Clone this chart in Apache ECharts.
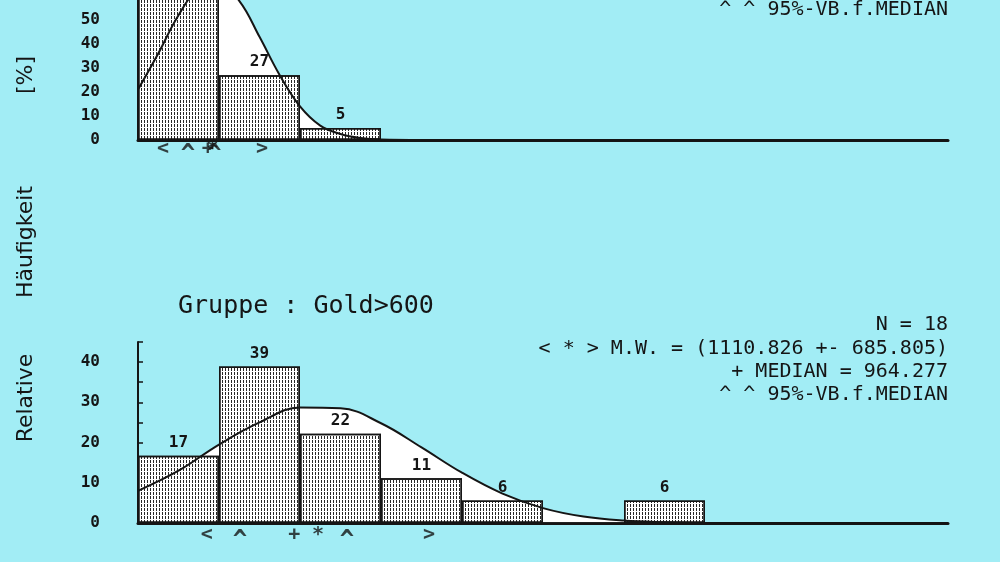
<!DOCTYPE html>
<html><head><meta charset="utf-8">
<script src="https://cdn.jsdelivr.net/npm/echarts@6/dist/echarts.min.js"></script>
<style>html,body{margin:0;padding:0;background:#a2edf5}#c{width:1000px;height:562px}</style>
</head><body><div id="c"></div>
<script>
// bins of 500 units, 0..5000
const binLabels = ['0-500','500-1000','1000-1500','1500-2000','2000-2500','2500-3000','3000-3500','3500-4000','4000-4500','4500-5000'];
// top panel (group above, partly cut off)
const topBars = [68, 27, 5, 0, 0, 0, 0, 0, 0, 0];
const topCurveX = [0, 125, 250, 375, 500, 625, 750, 875, 1000, 1125, 1250, 1375, 1500, 1750];
const topCurveY = [21, 36, 52, 63, 65, 58, 43, 27, 14, 6, 2.5, 0.8, 0.2, 0];
const topMarkSyms = ['<', '^', '+', '*', '^', '>'];
const topMarkX = [154, 309, 430, 460, 470, 765];
// bottom panel: Gruppe : Gold>600
const bottomBars = [16.7, 38.9, 22.2, 11.1, 5.6, 0, 5.6, 0, 0, 0];
const bottomCurveX = [0, 250, 500, 750, 1000, 1250, 1500, 1750, 2000, 2250, 2500, 2750, 3000, 3250, 3500];
const bottomCurveY = [8, 13, 19.5, 25, 28.7, 28.5, 24.8, 18.8, 12.5, 7.3, 3.7, 1.6, 0.6, 0.2, 0];
const bottomMarkSyms = ['<', '^', '+', '*', '^', '>'];
const bottomMarkX = [425, 630, 964.3, 1110.8, 1290, 1796.6];
const yTicksTop = [0, 10, 20, 30, 40, 50, 60, 70];
const yTicksBottom = [0, 10, 20, 30, 40];
const textTop = ['^ ^ 95%-VB.f.MEDIAN'];
const textBottom = ['N = 18', '< * > M.W. = (1110.826 +- 685.805)', '+ MEDIAN = 964.277', '^ ^ 95%-VB.f.MEDIAN'];
const groupTitle = 'Gruppe : Gold>600';

const INK = '#151515';
const MONO = '"DejaVu Sans Mono", "Liberation Mono", monospace';
const hatch = {symbol: 'rect', symbolSize: 1, dashArrayX: [1, 2], dashArrayY: [3, 1], color: 'rgba(15,15,15,0.9)'};

function xAxes(g) {
  return [
    {gridIndex: g, type: 'category', data: binLabels, show: false, boundaryGap: true},
    {gridIndex: g, type: 'value', min: 0, max: 5000, position: 'bottom',
     axisLine: {show: true, onZero: true, lineStyle: {color: INK, width: 3}},
     axisTick: {show: false}, axisLabel: {show: false}, splitLine: {show: false}}
  ];
}
function yAxis(g, max, ticks) {
  return {gridIndex: g, type: 'value', min: 0, max: max, interval: 5,
    axisLine: {show: true, lineStyle: {color: INK, width: 2}},
    axisTick: {show: true, inside: true, length: 5, lineStyle: {color: INK, width: 1.5}},
    axisLabel: {formatter: v => ticks.indexOf(v) >= 0 ? String(v) : '', fontFamily: MONO, fontWeight: 'bold', fontSize: 16, color: INK, margin: 38},
    splitLine: {show: false}};
}
function panelSeries(g, bars, cx, cy, syms, mx, markY) {
  const pts = cx.map((x, i) => [x, cy[i]]);
  return [
    {type: 'line', xAxisIndex: 2 * g + 1, yAxisIndex: g, data: pts, smooth: 0.4, symbol: 'none', silent: true,
     lineStyle: {width: 0}, areaStyle: {color: '#ffffff', opacity: 1}, z: 1},
    {type: 'bar', xAxisIndex: 2 * g, yAxisIndex: g, data: bars, barWidth: '100%', barCategoryGap: 0, silent: true,
     itemStyle: {color: '#ffffff', borderColor: INK, borderWidth: 1.5, decal: hatch},
     label: {show: true, position: 'top', distance: 5, formatter: p => p.value > 0 ? String(Math.round(p.value)) : '', fontFamily: MONO, fontWeight: 'bold', fontSize: 16, color: INK},
     z: 2},
    {type: 'line', xAxisIndex: 2 * g + 1, yAxisIndex: g, data: pts, smooth: 0.4, symbol: 'none', silent: true,
     lineStyle: {width: 2, color: INK}, z: 3},
    {type: 'scatter', xAxisIndex: 2 * g + 1, yAxisIndex: g, clip: false, silent: true,
     data: mx.map((x, i) => ({name: syms[i], value: [x, markY], label: syms[i] === '^' ? {fontSize: 24, offset: [0, 6]} : {}})),
     symbol: 'circle', symbolSize: 1, itemStyle: {color: 'rgba(0,0,0,0)'},
     label: {show: true, position: 'inside', formatter: p => p.name, fontFamily: MONO, fontSize: 20, fontWeight: 'bold', color: INK}, z: 4}
  ];
}

const graphics = [];
textTop.forEach((t, i) => graphics.push({type: 'text', x: 948, y: 10 + 23.3 * i, style: {text: t, font: '20px ' + MONO, fill: INK, align: 'right', verticalAlign: 'middle'}}));
textBottom.forEach((t, i) => graphics.push({type: 'text', x: 948, y: 325 + 23.3 * i, style: {text: t, font: '20px ' + MONO, fill: INK, align: 'right', verticalAlign: 'middle'}}));
graphics.push({type: 'text', x: 178, y: 306, style: {text: groupTitle, font: '25px ' + MONO, fill: INK, align: 'left', verticalAlign: 'middle'}});
graphics.push({type: 'text', x: 26, y: 398, rotation: Math.PI / 2, style: {text: 'Relative', font: '500 22px "DejaVu Sans"', fill: INK, align: 'center', verticalAlign: 'middle'}});
graphics.push({type: 'text', x: 26, y: 242, rotation: Math.PI / 2, style: {text: 'Häufigkeit', font: '500 22px "DejaVu Sans"', fill: INK, align: 'center', verticalAlign: 'middle'}});
graphics.push({type: 'text', x: 26, y: 75, rotation: Math.PI / 2, style: {text: '[%]', font: '500 22px "DejaVu Sans"', fill: INK, align: 'center', verticalAlign: 'middle'}});

const chart = echarts.init(document.getElementById('c'), null, {renderer: 'canvas'});
chart.setOption({
  backgroundColor: '#a2edf5',
  animation: false,
  grid: [
    {left: 138, right: 52, bottom: 422, height: 168, containLabel: false, outerBoundsMode: 'none'},
    {left: 138, right: 52, top: 342, height: 181, containLabel: false, outerBoundsMode: 'none'}
  ],
  xAxis: [].concat(xAxes(0), xAxes(1)),
  yAxis: [yAxis(0, 70, yTicksTop), yAxis(1, 45, yTicksBottom)],
  series: [].concat(
    panelSeries(0, topBars, topCurveX, topCurveY, topMarkSyms, topMarkX, -3.6),
    panelSeries(1, bottomBars, bottomCurveX, bottomCurveY, bottomMarkSyms, bottomMarkX, -3)
  ),
  graphic: graphics
});
</script></body></html>
